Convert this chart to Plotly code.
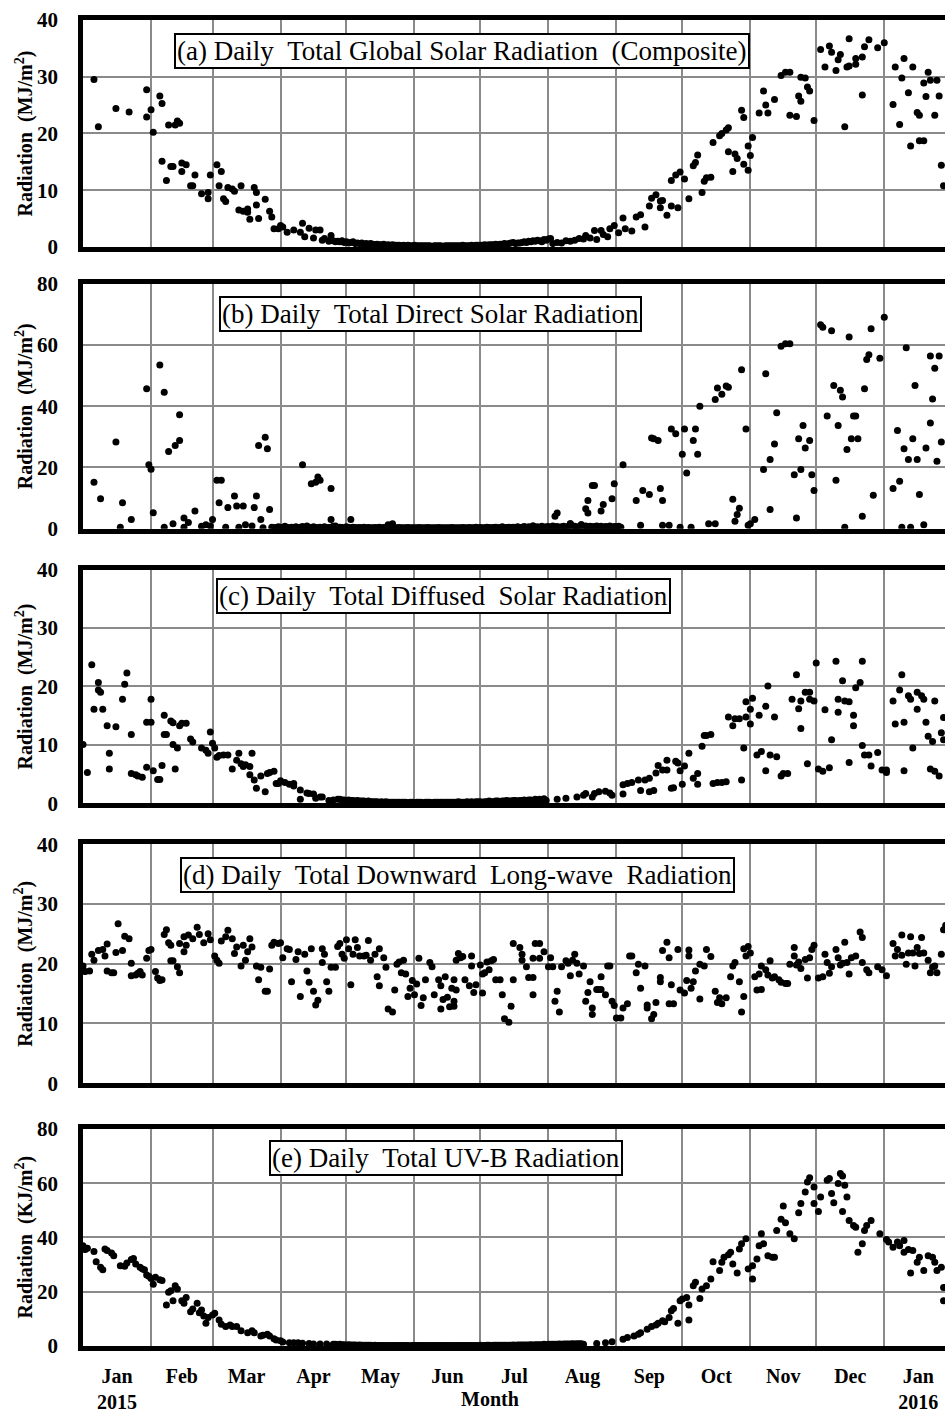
import plotly.graph_objects as go
import pandas as pd

START = pd.Timestamp("2015-01-01")

# ---------------- data: (day offset from 2015-01-01, value) ----------------
A_POINTS = [(5,29.5),(7,21.2),(15,24.4),(21,23.8),(29,27.7),(29,22.9),(31,24.2),(32,20.2),(35,26.6),(36,25.3),
 (36,15.1),(38,11.7),(39,21.5),(40,14.2),(41,14.2),(42,21.5),(43,22.2),(44,21.8),(45,14.8),(45,13.3),(47,14.5),
 (49,10.8),(50,10.8),(51,12.7),(54,9.4),(57,9.6),(57,8.5),(58,12.7),(61,14.5),(62,10.8),(63,13.3),(64,8.5),(65,8.0),
 (66,10.5),(68,10.2),(69,9.8),(71,6.5),(72,10.8),(73,6.3),(75,6.7),(75,6.1),(76,4.9),(78,10.5),(79,7.4),(79,9.6),
 (80,5.0),(83,8.4),(85,6.3),(86,5.3),(87,3.2),(89,3.2),(90,3.8),(91,3.5),(93,2.6),(96,3.0),(99,2.6),(100,4.2),
 (101,1.8),(103,3.3),(105,1.6),(106,3.0),(108,3.0),(109,1.2),(110,1.5),(112,1.0),(113,2.0),(114,1.1),(115,0.9),
 (214,0.6),(216,0.8),(218,0.7),(220,1.1),(222,1.0),(224,1.2),(226,1.5),(228,1.4),(229,2.0),(231,1.6),(233,2.9),
 (234,1.3),(236,2.9),(237,2.2),(239,1.8),(240,3.2),(242,3.8),(244,2.5),(246,5.1),(247,3.2),(250,2.8),(252,5.3),
 (254,5.7),(256,3.5),(258,7.2),(259,8.6),(261,9.2),(263,8.1),(263,6.9),(264,8.2),(266,5.6),(268,7.2),(268,11.7),
 (270,12.7),(271,6.9),(272,13.2),(274,12.0),(276,8.5),(278,14.3),(279,14.9),(280,16.2),(282,9.6),(283,11.6),
 (284,12.2),(286,12.3),(287,18.4),(290,19.6),(291,20.0),(293,20.6),(294,21.0),(294,16.8),(296,13.3),(297,16.4),
 (298,15.6),(300,24.1),(301,22.8),(301,14.6),(303,17.8),(303,13.5),(304,16.1),(305,19.3),(308,23.6),(310,27.5),
 (311,25.0),(312,23.6),(315,26.0),(318,30.2),(320,30.8),(322,30.8),(322,23.2),(325,23.0),(326,26.6),(327,25.7),
 (327,29.9),(329,29.8),(330,28.2),(331,27.5),(333,22.3),(336,34.8),(338,31.7),(340,35.4),(341,34.3),(343,31.1),
 (344,33.0),(345,33.9),(347,21.2),(348,31.7),(349,36.7),(349,31.9),(352,32.2),(352,33.2),(355,26.8),(355,33.5),
 (356,35.3),(358,36.5),(362,35.1),(365,36.0),(369,25.1),(370,31.7),(372,21.6),(373,29.8),(374,33.2),(376,27.2),
 (377,17.8),(378,31.7),(380,23.7),(381,23.2),(381,18.7),(383,18.7),(383,28.9),(384,26.5),(385,30.8),(386,29.4),
 (388,23.2),(389,29.4),(390,26.6),(391,14.4),(392,10.8)]
A_LOW_START = 116
A_LOW_VALS = [1.0,0.9,1.1,0.8,0.9,0.7,0.8,0.9,0.6,0.7, 0.6,0.7,0.5,0.6,0.5,0.6,0.5,0.4,0.5,0.4,
 0.4,0.5,0.3,0.4,0.3,0.4,0.3,0.3,0.3,0.2, 0.3,0.2,0.3,0.2,0.2,0.3,0.2,0.2,0.2,0.2,
 0.2,0.2,0.2,0.1,0.2,0.2,0.2,0.2,0.1,0.2, 0.2,0.2,0.2,0.2,0.2,0.2,0.2,0.3,0.2,0.2,
 0.2,0.3,0.2,0.3,0.3,0.3,0.3,0.4,0.3,0.4, 0.4,0.4,0.5,0.4,0.5,0.5,0.6,0.5,0.6,0.7,
 0.8,0.6,0.7,0.7,0.8,0.9,0.8,1.0,0.9,1.1, 1.0,1.2,1.1,0.9,1.3,1.2,1.4,1.5]

B_POINTS = [(5,15.2),(8,9.8),(15,28.3),(17,0.5),(18,8.5),(22,3.0),(29,45.7),(30,20.9),(31,19.4),(32,5.2),
 (35,53.5),(37,44.6),(37,0.5),(39,25.2),(41,1.6),(42,27.2),(44,37.2),(44,28.8),(46,3.5),(46,0.5),(48,2.0),
 (51,5.8),(54,0.8),(56,1.3),(58,0.9),(59,3.0),(61,15.8),(62,8.5),(63,15.8),(65,0.5),(66,6.9),(69,10.7),(70,7.4),
 (71,0.5),(73,7.4),(74,1.3),(77,0.9),(78,6.9),(79,10.7),(80,27.2),(81,3.0),(82,0.3),(83,29.9),(84,26.1),(85,6.3),
 (100,20.9),(102,0.9),(104,14.7),(106,15.2),(107,16.9),(108,15.8),(113,3.0),(113,13.1),(115,0.9),(122,3.0),
 (139,1.3),(141,1.6),(205,0.9),(215,4.1),(216,5.1),(222,1.6),(227,1.3),(229,6.5),(230,5.1),(230,9.2),(232,14.1),
 (233,14.1),(236,5.8),(237,7.9),(241,9.8),(242,14.7),(246,20.9),(252,9.2),(254,1.1),(255,12.5),(258,11.2),
 (259,29.6),(260,29.4),(262,28.8),(263,13.1),(264,1.1),(264,9.2),(267,1.1),(268,32.6),(270,31.0),(272,0.5),
 (273,24.3),(274,32.6),(275,18.2),(277,0.5),(278,28.8),(279,32.6),(280,24.3),(281,40.0),(285,1.6),(288,1.6),
 (288,42.2),(289,46.0),(291,43.9),(293,46.6),(294,46.2),(296,9.6),(297,2.4),(298,4.6),(299,6.7),(300,51.9),
 (302,32.6),(303,1.1),(304,1.6),(306,3.0),(310,19.3),(311,50.6),(313,22.6),(313,6.3),(315,27.7),(316,37.9),
 (318,59.6),(320,60.4),(322,60.4),(324,17.6),(325,3.5),(326,29.4),(327,19.3),(328,33.7),(329,26.4),(331,28.8),
 (332,17.6),(333,12.5),(336,66.6),(337,65.8),(339,36.8),(341,64.7),(342,46.8),(343,15.8),(344,33.7),(345,45.2),
 (346,43.0),(347,0.5),(348,25.9),(349,62.6),(350,29.4),(351,36.8),(352,36.8),(353,29.4),(355,4.1),(356,45.7),
 (357,55.3),(358,56.8),(359,65.3),(360,10.9),(363,55.7),(365,69.1),(369,13.1),(371,32.1),(372,15.5),(373,0.5),
 (374,26.1),(375,59.1),(376,22.6),(377,0.5),(378,29.4),(379,46.8),(380,22.6),(381,11.2),(383,1.3),(384,26.4),
 (386,34.5),(386,56.4),(387,42.4),(388,52.4),(389,22.0),(390,56.4),(391,28.3)]
B_LOW_START = 86
B_LOW_VALS = [0.5,0.3,0.4,0.6,0.3,0.5,0.8,0.4,0.3,0.5, 0.4,0.6,0.3,0.5,0.7,0.3,0.4,0.5,0.3,0.6,
 0.4,0.3,0.5,0.4,0.6,0.3,0.4,0.5,0.8,0.4, 0.3,0.5,0.4,0.3,0.6,0.4,0.3,0.5,0.4,0.3,
 0.4,0.3,0.5,0.3,0.4,0.3,0.3,0.4,0.3,0.5, 0.3,0.4,0.3,0.3,0.4,0.3,0.3,0.3,0.4,0.3,
 0.3,0.3,0.4,0.3,0.3,0.3,0.3,0.4,0.3,0.3, 0.3,0.4,0.3,0.3,0.3,0.3,0.4,0.3,0.3,0.3,
 0.3,0.3,0.4,0.3,0.3,0.3,0.3,0.4,0.3,0.3, 0.4,0.3,0.3,0.5,0.3,0.4,0.3,0.3,0.5,0.4,
 0.3,0.4,0.5,0.3,0.4,0.6,0.3,0.4,0.5,0.4, 0.5,0.4,0.6,0.4,0.5,0.7,0.4,0.6,0.5,0.9,
 0.5,0.6,0.4,0.8,0.5,0.6,0.7,0.5,0.9,0.6, 0.7,0.5,0.6,0.8,0.5,0.7,1.6,0.6,0.8,0.5,
 0.7,1.3,0.6,0.9,0.5,0.8,0.6,0.7,0.9,0.6, 0.8,0.5,0.7,0.6,0.9,0.5,0.7,0.6,0.8,0.5]

C_POINTS = [(0,10.1),(2,5.3),(4,23.7),(5,16.1),(7,20.7),(7,19.4),(8,19.0),(9,16.1),(11,13.3),(12,8.6),(12,5.9),
 (15,13.1),(18,17.8),(19,20.4),(20,22.3),(22,11.8),(22,5.1),(24,4.9),(25,4.7),(27,4.5),(29,6.2),(29,13.9),
 (31,13.9),(31,17.8),(32,5.6),(34,4.1),(35,4.1),(36,6.5),(37,15.1),(37,11.8),(38,11.8),(40,14.1),(41,13.8),
 (41,10.1),(42,5.9),(43,9.5),(44,13.3),(45,13.7),(47,13.7),(49,11.0),(50,10.5),(54,9.5),(56,9.1),(57,8.6),
 (58,12.2),(59,10.3),(60,9.5),(61,7.9),(62,8.2),(64,8.3),(66,8.3),(68,5.9),(70,7.4),(71,8.6),(72,6.8),(73,6.3),
 (74,6.6),(76,6.3),(76,4.9),(77,8.6),(78,4.0),(79,2.6),(81,4.7),(83,2.0),(84,5.1),(85,5.3),(87,5.5),(88,3.4),
 (89,3.4),(90,3.9),(92,3.6),(94,3.3),(96,3.0),(96,3.4),(99,2.3),(99,0.7),(102,1.8),(103,1.7),(105,1.6),(106,0.9),
 (108,1.1),(109,1.1),(112,0.5),(114,0.6),(116,0.7),
 (211,0.5),(216,0.7),(220,0.9),(225,1.1),(228,1.4),(229,1.7),(232,1.1),(233,1.7),(235,2.0),(238,2.1),(240,1.8),
 (241,1.4),(246,1.6),(246,3.2),(248,3.4),(250,3.6),(253,4.0),(254,2.2),(256,4.0),(258,4.3),(258,2.0),(260,2.2),
 (261,5.2),(262,6.5),(264,5.7),(266,5.7),(266,7.4),(268,2.6),(269,2.7),(270,7.2),(271,6.9),(272,5.6),(273,3.3),
 (274,6.4),(276,8.6),(278,4.3),(280,5.1),(280,3.3),(282,9.8),(283,11.6),(284,11.6),(286,11.8),(287,3.4),
 (289,3.6),(291,3.6),(293,3.7),(294,14.8),(296,13.3),(297,14.5),(299,14.5),(300,4.0),(301,9.5),(302,14.8),
 (302,17.4),(304,13.6),(304,16.1),(305,18.0),(307,8.3),(308,15.1),(309,8.9),(311,5.6),(311,16.6),(312,20.1),
 (313,8.3),(315,14.8),(316,8.0),(318,4.7),(319,5.1),(321,5.1),(323,17.8),(325,22.0),(326,16.2),(327,17.5),
 (327,12.8),(329,19.0),(330,6.8),(331,17.8),(331,19.0),(333,17.5),(334,24.0),(335,5.9),(337,5.5),(338,16.0),
 (340,6.1),(341,10.9),(343,24.3),(344,15.6),(344,17.8),(346,21.0),(347,17.5),(349,7.0),(349,17.4),(351,15.1),
 (351,13.3),(352,19.8),(354,20.7),(355,24.3),(355,9.9),(356,8.3),(358,8.3),(359,6.4),(362,8.7),(364,5.7),
 (366,5.7),(366,5.3),(369,17.5),(370,13.6),(372,19.4),(373,22.0),(374,13.9),(374,5.6),(376,18.4),(377,17.8),
 (378,9.5),(380,16.1),(380,19.0),(382,18.4),(383,17.8),(384,13.9),(385,11.5),(386,5.9),(387,10.6),(388,5.5),
 (388,17.5),(390,4.7),(391,12.1),(392,14.7),(392,10.9)]
C_LOW_START = 117
C_LOW_VALS = [0.7,0.6,0.6,0.5,0.6,0.5,0.5,0.4,0.5,0.4, 0.4,0.4,0.3,0.4,0.3,0.3,0.3,0.3,0.2,0.3,
 0.2,0.3,0.2,0.2,0.2,0.2,0.2,0.2,0.2,0.2, 0.2,0.1,0.2,0.2,0.1,0.2,0.2,0.2,0.1,0.2,
 0.2,0.2,0.1,0.2,0.2,0.2,0.2,0.2,0.2,0.2, 0.2,0.2,0.2,0.2,0.3,0.2,0.2,0.2,0.3,0.2,
 0.3,0.2,0.3,0.3,0.3,0.2,0.3,0.3,0.4,0.3, 0.3,0.4,0.4,0.3,0.4,0.4,0.5,0.4,0.4,0.5,
 0.5,0.4,0.5,0.5,0.6,0.5,0.6,0.6,0.5,0.7, 0.6,0.7,0.6,0.8]

D_POINTS = [(0,19.6),(1,18.7),(3,18.8),(4,21.6),(5,20.6),(7,22.2),(9,22.4),(10,21.3),(11,23.3),(11,18.8),
 (13,18.5),(14,18.5),(15,21.9),(16,26.7),(18,22.2),(19,24.6),(21,24.2),(22,20.1),(22,18.0),(24,18.1),(25,18.4),
 (26,18.7),(27,18.1),(29,20.9),(30,22.2),(31,22.4),(33,18.7),(34,17.6),(35,17.2),(36,17.3),(37,24.9),(38,25.7),
 (39,23.5),(40,23.1),(40,20.5),(41,20.5),(43,19.5),(44,18.5),(44,23.4),(46,22.0),(46,24.5),(47,23.1),(48,24.8),
 (50,24.2),(52,26.1),(53,24.9),(55,23.5),(57,25.0),(58,24.0),(60,21.3),(61,20.6),(62,20.1),(63,23.8),(65,24.5),
 (66,25.6),(68,24.2),(69,21.7),(70,22.8),(72,19.6),(73,23.1),(74,20.6),(75,22.0),(76,24.2),(77,22.8),(79,19.6),
 (80,17.3),(81,19.4),(83,15.4),(84,15.4),(85,19.1),(86,23.1),(87,23.6),(89,23.4),(90,23.5),(91,21.0),(93,22.5),
 (94,22.4),(95,17.0),(97,20.7),(98,22.0),(99,14.5),(101,21.6),(102,18.8),(103,16.9),(104,22.5),(105,15.4),
 (106,13.1),(107,13.9),(109,20.2),(109,22.5),(110,21.6),(111,17.0),(112,15.4),(113,19.4),(115,19.4),(116,22.9),
 (117,23.4),(118,21.6),(119,20.9),(120,24.0),(121,22.5),(122,16.5),(123,21.6),(124,24.0),(125,22.7),(126,21.3),
 (128,21.3),(129,21.4),(130,23.9),(131,20.6),(133,21.6),(134,17.8),(135,16.3),(135,22.5),(137,21.0),(138,19.4),
 (139,12.4),(141,11.9),(142,15.6),(143,19.9),(144,20.3),(145,18.5),(146,20.6),(147,18.3),(148,14.5),(149,15.9),
 (150,17.2),(151,14.8),(152,16.6),(153,20.9),(154,13.0),(155,14.3),(156,17.3),(158,20.2),(159,19.5),(160,14.8),
 (162,17.3),(163,16.3),(163,12.4),(164,14.0),(165,17.8),(166,14.4),(167,12.8),(168,15.9),(169,17.3),(169,13.7),
 (169,12.9),(170,15.6),(170,20.6),(171,21.7),(172,21.0),(173,21.2),(174,17.3),(176,16.3),(177,19.6),(178,15.2),
 (177,21.3),(179,16.5),(181,19.8),(182,15.1),(182,18.3),(183,18.5),(184,20.3),(185,19.0),(186,20.5),(187,20.7),
 (188,17.3),(190,17.3),(191,14.8),(192,10.8),(194,10.2),(195,12.9),(196,17.3),(196,23.4),(199,22.7),(200,21.6),
 (200,20.6),(202,19.5),(203,17.7),(205,14.8),(205,17.7),(205,20.9),(206,23.4),(208,23.4),(208,20.9),(210,22.0),
 (212,19.5),(213,21.0),(214,19.5),(215,13.7),(216,15.4),(217,11.9),(218,19.5),(220,20.5),(221,20.1),(222,18.0),
 (223,20.6),(224,21.6),(225,20.1),(226,18.3),(228,19.6),(229,13.7),(230,15.2),(231,17.0),(232,12.6),(232,11.5),
 (234,15.7),(235,15.7),(236,17.8),(236,15.7),(238,14.8),(239,19.6),(240,19.6),(241,13.7),(242,13.0),(243,10.9),
 (245,10.9),(246,12.6),(248,13.3),(249,21.3),(250,21.3),(252,18.5),(253,19.9),(254,15.9),(256,19.6),(257,12.6),
 (257,13.1),(259,10.8),(260,11.5),(261,13.5),(263,17.0),(263,17.7),(264,22.2),(266,23.6),(267,21.0),(267,13.3),
 (268,16.5),(269,13.3),(271,22.4),(272,15.6),(274,15.1),(275,17.2),(276,22.3),(276,21.3),(277,15.9),(278,17.0),
 (279,18.8),(281,14.1),(281,19.9),(283,19.6),(284,22.4),(286,21.2),(288,15.4),(289,13.5),(290,14.3),(291,13.3),
 (293,14.3),(295,17.8),(296,19.6),(297,20.2),(299,17.0),(301,14.5),(300,11.9),(301,22.5),(302,21.3),(303,22.9),
 (304,21.8),(306,17.8),(307,15.6),(308,18.3),(309,19.6),(309,15.7),(311,19.0),(312,18.1),(313,20.5),(314,17.6),
 (315,17.8),(317,17.3),(318,16.9),(320,16.7),(321,16.7),(322,19.9),(324,21.3),(324,22.7),(325,19.8),(326,20.3),
 (327,19.2),(329,20.7),(330,17.6),(331,21.0),(332,22.4),(333,23.1),(335,17.6),(337,17.8),(338,21.6),(339,20.2),
 (340,18.4),(341,19.5),(343,22.4),(344,21.0),(345,19.8),(346,20.1),(347,23.6),(348,20.2),(349,18.3),(350,21.0),
 (352,21.3),(354,25.3),(355,24.4),(355,20.2),(357,19.0),(358,18.5),(362,19.5),(364,19.0),(366,18.0),(369,23.4),
 (370,21.3),(371,22.4),(373,24.8),(373,21.4),(375,19.9),(376,21.8),(377,24.5),(378,21.8),(379,19.6),(380,22.7),
 (381,21.7),(382,24.4),(383,21.8),(385,20.6),(386,18.5),(387,19.4),(388,19.6),(389,18.5),(391,21.6),(392,25.7),
 (393,26.4)]

E_POINTS = [(0,37.0),(1,35.6),(2,36.0),(5,34.8),(6,31.1),(8,29.0),(9,28.1),(10,35.8),(11,35.2),(13,34.3),(14,33.3),
 (17,29.6),(19,29.4),(20,30.6),(22,31.9),(23,32.3),(24,30.2),(26,29.0),(27,28.4),(28,28.1),(29,26.2),(30,25.7),
 (31,24.9),(32,22.8),(33,25.3),(35,24.4),(36,24.1),(38,15.1),(39,19.8),(40,20.4),(41,16.7),(42,22.2),(43,21.0),
 (45,16.7),(46,15.8),(47,17.9),(49,12.6),(50,13.6),(52,15.8),(53,12.3),(54,13.3),(55,11.1),(56,8.4),(57,10.5),
 (59,11.4),(60,12.1),(62,9.6),(63,8.0),(65,7.2),(67,7.7),(68,7.2),(70,7.2),(72,5.6),(75,4.9),(77,5.6),(78,4.9),
 (81,3.7),(82,4.0),(84,4.3),(85,3.7),(87,2.7),(88,2.2),(90,1.9),(91,1.5),(94,1.2),(96,1.2),(98,1.2),(100,1.0),
 (103,0.9),(105,0.7),(108,0.7),(111,0.7),(114,0.6),
 (228,0.6),(234,0.9),(238,1.2),(241,1.6),(246,2.5),(248,3.1),(251,3.7),(253,4.3),(254,4.9),(257,6.2),(259,7.2),
 (261,7.7),(262,8.4),(264,9.3),(265,8.9),(267,10.5),(268,13.0),(269,13.8),(271,8.4),(272,16.7),(273,17.3),
 (275,17.9),(276,9.6),(276,15.1),(278,22.2),(279,23.5),(281,17.5),(282,21.0),(284,22.2),(286,24.7),(287,31.1),
 (290,27.8),(291,30.9),(292,32.7),(294,33.6),(295,34.6),(296,30.2),(298,26.9),(299,35.8),(300,37.7),(302,39.5),
 (303,28.4),(305,24.7),(305,29.6),(307,32.1),(308,37.0),(309,41.4),(310,37.7),(312,33.3),(314,32.7),(315,32.7),
 (316,42.6),(318,46.7),(319,51.6),(320,45.4),(322,41.4),(324,39.5),(326,49.1),(327,52.5),(329,56.8),(330,60.5),
 (331,62.0),(333,52.5),(333,58.6),(335,49.6),(336,54.9),(339,61.1),(340,61.7),(341,56.2),(342,52.8),(344,59.9),
 (345,63.6),(346,62.7),(346,49.6),(347,59.3),(348,54.9),(349,46.3),(351,44.4),(352,43.8),(353,34.6),(355,37.7),
 (356,42.6),(357,44.4),(359,46.3),(363,41.4),(366,39.3),(367,38.3),(369,36.4),(371,38.3),(372,37.0),(374,38.9),
 (374,34.6),(376,35.6),(377,26.9),(378,35.2),(380,30.9),(381,32.7),(383,27.8),(385,33.3),(387,32.7),(388,30.9),
 (389,27.8),(391,29.0),(392,21.6),(392,16.7)]
E_LOW_START = 115
E_LOW_VALS = [0.6,0.5,0.6,0.5,0.5,0.4,0.5,0.4,0.4,0.4, 0.3,0.4,0.3,0.3,0.3,0.3,0.3,0.2,0.3,0.2,
 0.2,0.2,0.2,0.2,0.2,0.2,0.2,0.2,0.2,0.2, 0.2,0.2,0.2,0.2,0.1,0.2,0.2,0.2,0.2,0.2,
 0.2,0.2,0.2,0.2,0.2,0.2,0.2,0.2,0.2,0.2, 0.2,0.2,0.2,0.2,0.2,0.2,0.2,0.2,0.2,0.2,
 0.2,0.2,0.2,0.2,0.2,0.2,0.3,0.2,0.2,0.3, 0.3,0.2,0.3,0.3,0.3,0.3,0.3,0.3,0.3,0.3,
 0.3,0.4,0.3,0.4,0.4,0.4,0.4,0.4,0.4,0.5, 0.4,0.5,0.5,0.5,0.5,0.6,0.5,0.6,0.6,0.6,
 0.6,0.6,0.7,0.6,0.7,0.7,0.7,0.7,0.8,0.7, 0.8,0.8,0.8]

MONTH_STARTS = ["2015-02-01","2015-03-01","2015-04-01","2015-05-01","2015-06-01","2015-07-01",
                "2015-08-01","2015-09-01","2015-10-01","2015-11-01","2015-12-01","2016-01-01"]
MID_MONTHS = ["2015-01-16 12:00","2015-02-15","2015-03-16 12:00","2015-04-16","2015-05-16 12:00","2015-06-16",
              "2015-07-16 12:00","2015-08-16 12:00","2015-09-16","2015-10-16 12:00","2015-11-16","2015-12-16 12:00",
              "2016-01-16 12:00"]
MONTH_LABELS = ["Jan<br>2015","Feb","Mar","Apr","May","Jun","Jul","Aug","Sep","Oct","Nov","Dec","Jan<br>2016"]

PANEL_TITLES = ["(a) Daily\u00a0\u00a0Total Global Solar Radiation\u00a0\u00a0(Composite)",
                "(b) Daily\u00a0\u00a0Total Direct Solar Radiation",
                "(c) Daily\u00a0\u00a0Total Diffused\u00a0\u00a0Solar Radiation",
                "(d) Daily\u00a0\u00a0Total Downward\u00a0\u00a0Long-wave\u00a0\u00a0Radiation",
                "(e) Daily\u00a0\u00a0Total UV-B Radiation"]
Y_TITLES = ["Radiation\u00a0\u00a0(MJ/m<sup>2</sup>)"] * 4 + ["Radiation\u00a0\u00a0(KJ/m<sup>2</sup>)"]
Y_MAX = [40, 80, 40, 40, 80]
Y_STEP = [10, 20, 10, 10, 20]


def build(points, low_start=None, low_vals=()):
    days = [d for d, _ in points]
    vals = [v for _, v in points]
    if low_vals:
        days += [low_start + i for i in range(len(low_vals))]
        vals += list(low_vals)
    return [START + pd.Timedelta(days=d) for d in days], vals


SERIES = [build(A_POINTS, A_LOW_START, A_LOW_VALS),
          build(B_POINTS, B_LOW_START, B_LOW_VALS),
          build(C_POINTS, C_LOW_START, C_LOW_VALS),
          build(D_POINTS),
          build(E_POINTS, E_LOW_START, E_LOW_VALS)]

# ---------------- layout geometry ----------------
W, H = 945, 1413
ML, MR, MT, MB = 83, 0, 20, 61
PH = H - MT - MB
PW = W - ML - MR
PANEL_PX = [(20, 248), (285, 531), (572, 807), (848, 1088), (1134, 1352)]
TITLE_CENTERS = [(462, 51), (430, 315), (443, 599), (457, 879), (446, 1163)]


def py(p):
    return (H - MB - p) / PH


def px(p):
    return (p - ML) / PW


FONT = "Liberation Serif, Times New Roman, serif"
GRID = "#8a8a8a"

fig = go.Figure()
annotations = []
for i, (xs, ys) in enumerate(SERIES):
    sfx = "" if i == 0 else str(i + 1)
    fig.add_trace(go.Scatter(x=xs, y=ys, mode="markers",
                             marker=dict(color="black", size=7, line=dict(width=0)),
                             xaxis="x" + sfx, yaxis="y" + sfx, showlegend=False, cliponaxis=True))
    top, bot = PANEL_PX[i]
    dom = [max(0.0, py(bot)), min(1.0, py(top))]
    fig.layout["xaxis" + sfx] = dict(
        type="date", range=["2015-01-01", "2016-01-28 16:00"], anchor="y" + sfx,
        matches=None if i == 0 else "x",
        showline=True, linewidth=4.5, linecolor="black", mirror=True,
        showgrid=False, zeroline=False, ticks="",
        tickmode="array", tickvals=MID_MONTHS, ticktext=MONTH_LABELS,
        showticklabels=(i == 4), ticklabelstandoff=8,
        tickfont=dict(family=FONT, size=20, color="black", weight="bold"),
        minor=dict(tickmode="array", tickvals=MONTH_STARTS, showgrid=True,
                   gridcolor=GRID, gridwidth=1.7, ticks=""),
    )
    fig.layout["yaxis" + sfx] = dict(
        domain=dom, anchor="x" + sfx, range=[0, Y_MAX[i]], tickmode="linear", tick0=0, dtick=Y_STEP[i],
        showline=True, linewidth=4.5, linecolor="black", mirror=False,
        showgrid=True, gridcolor=GRID, gridwidth=1.7, zeroline=False, ticks="",
        ticklabelstandoff=16,
        tickfont=dict(family=FONT, size=21, color="black", weight="bold"),
    )
    cx, cy = TITLE_CENTERS[i]
    annotations.append(dict(x=px(cx), y=py(cy), xref="paper", yref="paper", text=PANEL_TITLES[i],
                            showarrow=False, xanchor="center", yanchor="middle",
                            font=dict(family=FONT, size=27, color="black"),
                            bgcolor="white", bordercolor="black", borderwidth=2, borderpad=1))
    annotations.append(dict(x=px(24), y=(dom[0] + dom[1]) / 2, xref="paper", yref="paper",
                            text="<b>" + Y_TITLES[i] + "</b>", textangle=-90, showarrow=False,
                            xanchor="center", yanchor="middle",
                            font=dict(family=FONT, size=20, color="black")))

annotations.append(dict(x=px(490), y=py(1405), xref="paper", yref="paper", text="<b>Month</b>",
                        showarrow=False, xanchor="center", yanchor="middle",
                        font=dict(family=FONT, size=20, color="black")))

fig.update_layout(width=W, height=H, margin=dict(l=ML, r=MR, t=MT, b=MB, pad=0),
                  paper_bgcolor="white", plot_bgcolor="white", annotations=annotations,
                  showlegend=False)

fig.write_html("out.html")
